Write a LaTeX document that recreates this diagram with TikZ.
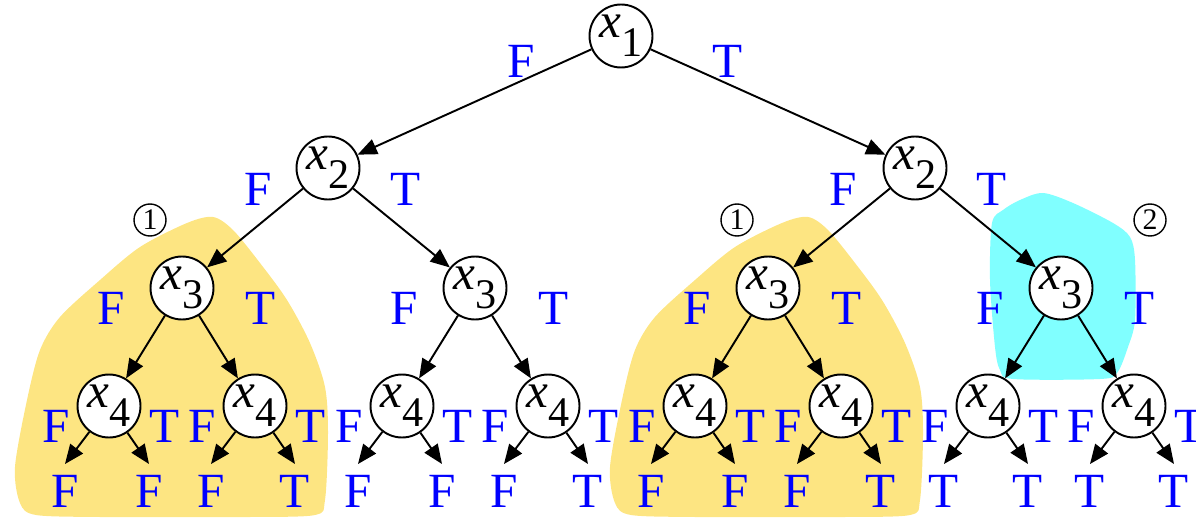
\documentclass[tikz,border=0pt]{standalone}
\usepackage{fontspec}
\setmainfont{Liberation Serif}
\usetikzlibrary{arrows.meta,positioning}
\definecolor{groupyellow}{HTML}{FDE582}
\definecolor{groupcyan}{HTML}{80FFFF}
\definecolor{valblue}{HTML}{0000FF}
\newcommand\xv[1]{\textit{x}\raisebox{-11pt}{\fontsize{24}{24}\selectfont #1}}
\tikzset{
  var/.style={circle,draw,line width=1.1pt,fill=white,minimum size=1.26cm,
    inner sep=0pt,font=\fontsize{28}{28}\selectfont},
  edge/.style={-{Triangle[length=11pt,width=9pt]},line width=1.1pt},
  lab/.style={text=valblue,inner sep=0pt,font=\fontsize{28}{28}\selectfont},
  leaf/.style={lab,inner sep=6pt},
  numtag/.style={circle,draw,line width=0.8pt,minimum size=0.64cm,inner sep=0pt,
    font=\fontsize{17}{17}\selectfont},
}

\begin{document}
\begin{tikzpicture}[x=0.02cm,y=-0.02cm]
  \useasboundingbox (0,0) rectangle (1196,520);
  % shaded groups behind the tree
  \foreach \dx in {0,595}
    \fill[groupyellow,shift={(\dx,0)}] plot[smooth cycle] coordinates {
      (213,217) (233,230) (260,263) (287,300) (310,343) (325,387) (328,433)
      (325,500) (315,515) (250,517) (175,517) (100,517) (36,515) (20,503)
      (15,467) (27,400) (40,350) (60,317) (100,280) (140,247) (187,223)};
  \fill[groupcyan] plot[smooth cycle] coordinates {
    (1043,193) (1073,203) (1113,223) (1130,237) (1135,260) (1135,320)
    (1128,347) (1117,373) (1100,379) (1013,379) (1000,370) (995,347)
    (990,280) (992,223) (1003,210) (1020,200)};

  % top two levels
  \node[var] (r) at (621,36) {\xv1};
  \node[var] (l2) at (328,168) {\xv2};
  \node[var] (r2) at (915,168) {\xv2};
  \draw[edge] (r) -- (l2);
  \draw[edge] (r) -- (r2);
  \node[lab] (rf) at (521,61) {F};
  \node[lab] (rt) at (728,61) {T};
  \node[lab] (l2f) at (258,189) {F};
  \node[lab] (l2t) at (406,189) {T};
  \node[lab] (r2f) at (843,189) {F};
  \node[lab] (r2t) at (992,189) {T};

  \node[numtag] (m1) at (150,220) {1};
  \node[numtag] (m2) at (737,220) {1};
  \node[numtag] (m3) at (1150,220) {2};

  % x3 subtrees with their leaves
  \foreach \i/\cx/\p/\a/\b/\c/\d in
      {1/182/l2/F/F/F/T, 2/475/l2/F/F/F/T, 3/768/r2/F/F/F/T, 4/1061/r2/T/T/T/T} {
    \node[var] (c\i) at (\cx,288) {\xv3};
    \draw[edge] (\p) -- (c\i);
    \node[lab] (cf\i) at (\cx-71,308) {F};
    \node[lab] (ct\i) at (\cx+79,308) {T};
    \foreach \s/\dx/\u/\v in {l/-73/\a/\b, r/73/\c/\d} {
      \node[var] (d\s\i) at (\cx+\dx,406) {\xv4};
      \draw[edge] (c\i) -- (d\s\i);
      \node[lab] (d\s f\i) at (\cx+\dx-53,426) {F};
      \node[lab] (d\s t\i) at (\cx+\dx+56,426) {T};
      \node[leaf] (e\s f\i) at (\cx+\dx-44,491) {\u};
      \node[leaf] (e\s t\i) at (\cx+\dx+40,491) {\v};
      \draw[edge] (d\s\i) -- (e\s f\i.north);
      \draw[edge] (d\s\i) -- (e\s t\i.north);
    }
  }
\end{tikzpicture}
\end{document}
